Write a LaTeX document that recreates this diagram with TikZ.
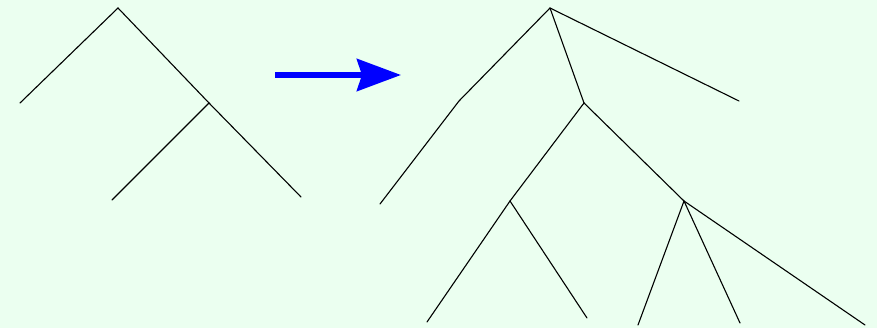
\documentclass[tikz,border=0pt]{standalone}
\usepackage{tikz}
\usetikzlibrary{arrows.meta}
\definecolor{bgmint}{RGB}{235,255,240}
\definecolor{arrblue}{RGB}{0,0,255}

\begin{document}
\begin{tikzpicture}[x=1pt, y=-1pt,
  branch/.style={black, line width=1.1pt, line cap=round},
  growarrow/.style={arrblue, line width=6pt, -{Stealth[length=44pt, width=32pt, inset=5pt]}}]
\fill[bgmint] (0,0) rectangle (877,328);
\useasboundingbox (0,0) rectangle (877,328);
% Small tree
\coordinate (sroot) at (118,8);
\coordinate (sleafa) at (20,103);
\coordinate (sinner) at (209,103);
\coordinate (sleafb) at (112,200);
\coordinate (sleafc) at (301,197);
\draw[branch] (sleafa) -- (sroot) -- (sinner);
\draw[branch] (sleafb) -- (sinner) -- (sleafc);
% Arrow
\coordinate (afrom) at (275,75);
\coordinate (ato) at (401,75);
\draw[growarrow] (afrom) -- (ato);
% Grown tree
\coordinate (groot) at (550,8);
\coordinate (gbend) at (459,101);
\coordinate (gleafa) at (380,204);
\coordinate (gmid) at (584,103);
\coordinate (gleafb) at (739,101);
\coordinate (gleft) at (510,201);
\coordinate (gright) at (684,201);
\coordinate (gleafc) at (427,322);
\coordinate (gleafd) at (587,318);
\coordinate (gleafe) at (638,325);
\coordinate (gleaff) at (740,323);
\coordinate (gleafg) at (865,325);
\draw[branch] (gleafa) -- (gbend) -- (groot);
\draw[branch] (groot) -- (gmid);
\draw[branch] (groot) -- (gleafb);
\draw[branch] (gleft) -- (gmid) -- (gright);
\draw[branch] (gleafc) -- (gleft) -- (gleafd);
\draw[branch] (gright) -- (gleafe);
\draw[branch] (gright) -- (gleaff);
\draw[branch] (gright) -- (gleafg);
\end{tikzpicture}
\end{document}
